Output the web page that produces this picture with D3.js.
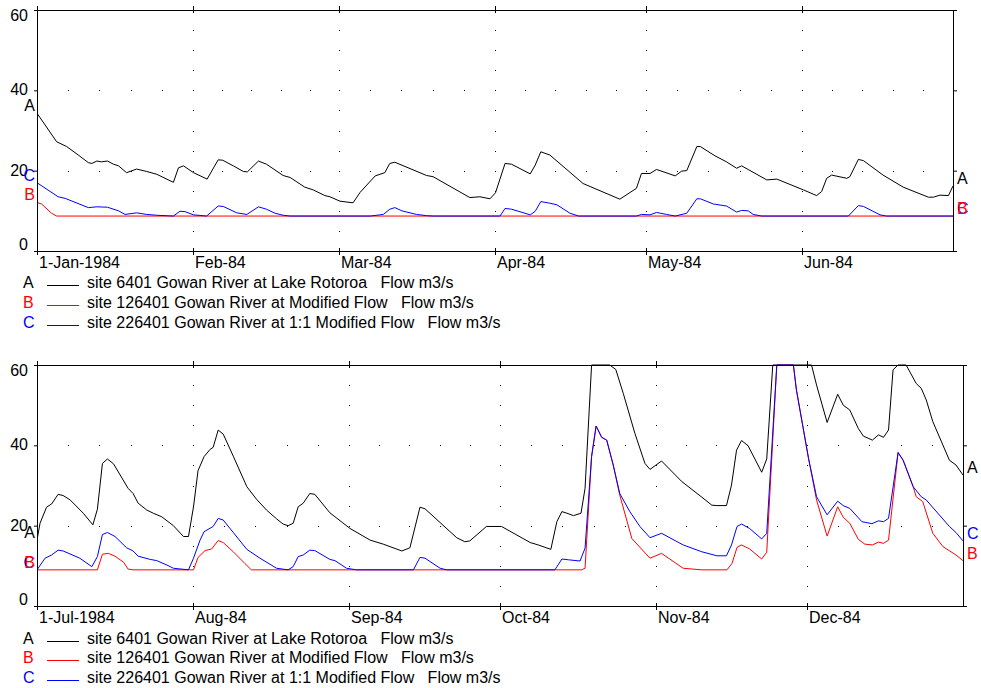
<!DOCTYPE html>
<html><head><meta charset="utf-8">
<script src="https://cdn.jsdelivr.net/npm/d3@7"></script>
<style>
body{margin:0;background:#fff}
svg text{font-family:"Liberation Sans",Arial,sans-serif;font-size:16px}
</style>
</head><body>
<svg id="chart" width="981" height="688"></svg>
<script>
// ---------------- DATA ----------------
const yTicks = [0, 20, 40, 60];
const monthLabels1 = ["1-Jan-1984", "Feb-84", "Mar-84", "Apr-84", "May-84", "Jun-84"];
const monthLabels2 = ["1-Jul-1984", "Aug-84", "Sep-84", "Oct-84", "Nov-84", "Dec-84"];
const seriesLetters = ["A", "B", "C"];
const seriesNames = [
  "site 6401 Gowan River at Lake Rotoroa   Flow m3/s",
  "site 126401 Gowan River at Modified Flow   Flow m3/s",
  "site 226401 Gowan River at 1:1 Modified Flow   Flow m3/s"
];
// [days since panel start, flow m3/s]
const h1A = [[0,34.3],[3.9,27.2],[5.9,26.0],[8.2,23.9],[10.2,22.0],[10.9,21.8],[11.9,22.4],[12.8,22.2],[14,22.4],[15.2,21.6],[16.2,21.2],[17.8,19.5],[19.8,20.4],[21.8,19.8],[23.8,19.1],[27.1,17.1],[28.1,20.7],[29.1,21.2],[31.1,19.5],[33.8,17.9],[36,22.7],[36.9,22.6],[39,21.2],[41,19.8],[41.8,19.7],[44,22.4],[45.6,21.6],[48.9,18.8],[50.3,18.3],[53.2,15.9],[54.9,15.2],[57.2,13.8],[58.2,13.5],[60.2,12.4],[62.8,12.0],[64.2,14.6],[67.2,18.7],[69.1,19.5],[70.1,21.8],[71.1,22.1],[77.4,18.8],[78.7,18.5],[86,13.3],[88,13.5],[90,13.0],[91.1,14.5],[93,21.8],[94.3,21.6],[98,19.2],[99,21.4],[100.1,24.7],[101.9,23.9],[108.5,16.8],[115.8,12.9],[119.1,15.6],[120.1,19.3],[121.8,19.3],[123.1,20.3],[126.8,18.7],[128.1,19.9],[129.1,20.0],[131.1,26.0],[131.8,26.0],[134.7,23.7],[137,22.2],[139,20.6],[140,21.2],[145,17.7],[147,17.9],[152.3,15.2],[154.9,13.8],[155.9,14.8],[156.9,18.1],[157.9,18.9],[160.9,18.1],[161.5,18.5],[163.2,22.8],[164.2,22.5],[168.1,18.9],[172.1,15.9],[177.1,13.4],[178.1,13.4],[179.4,13.9],[181.1,13.8],[182,16.2]];
const h1B = [[0,12.1],[0.9,11.7],[2.9,9.4],[3.9,8.7],[182,8.7]];
const h1C = [[0,17.0],[4.2,13.5],[5.6,13.1],[10.2,10.8],[11.9,11.0],[14,10.9],[16.2,10.0],[17.5,9.1],[19.8,9.5],[21.8,9.1],[23.8,8.9],[27.1,8.7],[28.4,9.9],[29.4,9.8],[31.1,9.0],[33.7,8.7],[36,11.2],[37,11.1],[39.7,9.5],[41.7,9.1],[44,11.0],[45.6,10.4],[47.3,9.4],[48.9,8.9],[50.3,8.7],[66.2,8.7],[68.8,9.1],[70.1,10.4],[71.1,10.8],[72.5,10.0],[75.4,9.1],[77.4,8.8],[78.7,8.7],[92,8.7],[93,10.6],[94.3,10.4],[98,9.0],[99,9.9],[100.1,12.3],[101.9,11.9],[103.3,11.5],[105.9,9.4],[107.6,8.7],[119.1,8.7],[120.1,9.1],[121.8,9.0],[123.1,9.6],[125.1,9.1],[126.8,8.7],[129.1,9.4],[131.1,13.0],[131.8,13.0],[134.4,11.7],[137,11.2],[139,9.7],[140,10.1],[141.3,10.0],[142.3,9.1],[144,8.7],[161.2,8.7],[163.2,11.3],[164.2,11.1],[167.5,9.0],[168.8,8.7],[182,8.7]];
const h2A = [[0,16.4],[0.6,20.6],[1.9,24.6],[2.9,25.4],[4.2,27.8],[5.2,27.5],[6.6,26.4],[9.2,23.1],[11.1,20.2],[12,24.1],[13,35.5],[14,36.6],[15.2,35.4],[18.1,29.3],[19.1,28.0],[20.1,25.6],[21.8,23.9],[23.1,23.1],[24.8,22.2],[27.1,20.0],[29.1,17.3],[30.1,17.3],[31.1,24.7],[32,33.7],[33.2,37.2],[34.4,39.0],[35,39.5],[36,43.8],[37,42.8],[39,37.3],[41.7,29.7],[43.6,26.6],[45.6,23.9],[47.6,21.7],[48.9,20.4],[49.9,20.0],[50.9,20.6],[51.9,24.7],[52.9,25.6],[54.2,28.0],[55.2,27.8],[58.2,23.2],[62.2,19.3],[66.2,16.4],[68.8,15.4],[72.5,13.7],[74.1,14.5],[76.1,24.6],[77.1,24.2],[83.4,17.0],[85,16.0],[86,16.2],[89.3,19.8],[92.3,19.8],[98,15.8],[99.6,15.2],[102.1,14.1],[103.3,21.0],[104.3,23.5],[105.3,23.1],[106.6,22.5],[108.1,23.1],[108.9,29.3],[110.2,60],[113.8,60],[115,58.9],[116.5,52.9],[118.8,43.0],[120.8,35.5],[121.8,34.0],[124.1,36.1],[128.1,31.0],[132.1,27.1],[134.1,25.1],[135.1,25.0],[137,25.0],[138,30.1],[139,38.8],[140,41.2],[141.3,39.9],[144,33.3],[145,36.6],[146.2,60],[153.9,60],[154.9,55.0],[157,45.7],[159.1,52.7],[160.2,50.0],[161.5,48.8],[163.2,44.2],[164.2,42.3],[166,41.3],[167.2,42.6],[168.2,42.0],[169.2,43.8],[170.1,58.8],[171.1,60],[172.7,60],[174.7,55.4],[175.7,54.2],[176.7,51.3],[178,45.9],[181.3,36.3],[182.6,35.1],[184,32.6]];
const h2B = [[0,9.0],[12,9.0],[13,12.9],[14.2,13.1],[15.5,12.4],[17.2,10.9],[18.1,9.2],[19.1,9.0],[31.1,9.0],[32,12.1],[33.4,13.8],[34.7,14.2],[36,16.3],[37,15.8],[39,13.5],[41.3,10.6],[42.6,9.0],[108.2,9.0],[108.9,9.4],[110.2,37.2],[111.1,44.8],[112.2,42.0],[113.2,41.3],[114.5,35.1],[115.8,27.6],[118.2,16.8],[121.8,11.9],[124.1,13.1],[128.4,9.4],[132.1,9.0],[137.1,9.0],[138.1,10.6],[139.1,14.6],[140,15.2],[141.6,14.2],[144,11.7],[145,13.4],[147,60],[150.3,60],[150.9,53.8],[153.3,36.8],[154.9,26.4],[157,17.4],[159.1,24.7],[160.2,22.1],[161.5,20.6],[163.2,16.6],[164.5,15.4],[166,15.2],[167.2,15.9],[168.2,15.6],[169.2,16.4],[171.1,38.2],[172.1,36.3],[174.1,29.7],[174.7,27.2],[176,26.0],[178,18.1],[180,14.8],[182.6,12.7],[184,11.3]];
const h2C = [[0,9.0],[1.6,11.9],[2.9,12.7],[4.2,13.9],[5.2,13.7],[8.5,11.9],[10.9,9.8],[12,12.3],[13,17.8],[14,18.3],[15.5,17.3],[17.8,14.5],[19.1,13.7],[20.1,12.4],[22.5,11.6],[23.8,11.3],[25.8,10.2],[27.1,9.4],[30.1,9.0],[31.1,11.9],[32.4,16.4],[33.2,18.5],[35,19.8],[36,21.8],[37,21.4],[39,18.3],[41.7,14.1],[44.3,11.9],[47.6,9.4],[49.9,9.0],[50.9,9.8],[51.9,12.3],[52.9,12.7],[54.2,13.9],[55.2,13.8],[58.2,11.6],[59.2,11.3],[61.5,9.4],[63.5,9.0],[74.8,9.0],[76.1,12.1],[77.1,11.9],[80.1,9.4],[81.4,9.0],[102.9,9.0],[104.3,11.7],[105.6,11.5],[107.9,11.2],[108.9,14.4],[110.2,37.2],[111.1,44.8],[112.2,42.0],[113.2,41.3],[114.5,35.1],[115.8,28.0],[117.8,23.5],[119.8,19.8],[121.8,17.0],[124.1,18.1],[128.4,15.2],[132.1,13.5],[135.1,12.5],[137,12.5],[138,15.2],[139.1,19.8],[140,20.4],[141.6,19.3],[144,16.7],[145,18.1],[147,60],[150.3,60],[150.9,53.8],[153.3,36.8],[154.9,27.2],[157,22.7],[159.1,26.1],[160.2,25.0],[161.5,24.3],[163.9,21.0],[165.9,20.5],[167.2,21.2],[168.2,21.0],[169.2,21.8],[171.1,38.2],[172.1,36.3],[174.1,29.7],[175.7,27.2],[176.7,26.4],[181.3,19.8],[182.6,18.3],[184,16.2]];

// ---------------- STYLE / LAYOUT ----------------
const colors = ["#000000", "#ff0000", "#0000ff"];
const DAY = 864e5;
const panels = [
  {start: Date.UTC(1984,0,1), end: Date.UTC(1984,6,1), left:37, right:953, top:10, bottom:251,
   labels: monthLabels1, series:[h1A,h1B,h1C], legendY:[288,308,327.5]},
  {start: Date.UTC(1984,6,1), end: Date.UTC(1985,0,1), left:37, right:963, top:365, bottom:606,
   labels: monthLabels2, series:[h2A,h2B,h2C], legendY:[643.5,663,682.5]}
];

const svg = d3.select("#chart");
const font = "Liberation Sans, Arial, sans-serif";

panels.forEach((p, pi) => {
  const x = d3.scaleUtc().domain([p.start, p.end]).range([p.left, p.right]);
  const y = d3.scaleLinear().domain([0, 60]).range([p.bottom, p.top]);
  const months = d3.utcMonth.range(new Date(p.start), new Date(p.end));
  const g = svg.append("g").attr("class", "panel" + pi);

  // dotted grid
  const dots = [];
  months.forEach((m, i) => {
    const next = d3.utcMonth.offset(m, 1);
    for (let k = 0; k < 5; k++) {
      if (i === 0 && k === 0) continue;
      const t = +m + (next - m) * k / 5;
      [20, 40].forEach(v => dots.push([x(t), y(v)]));
    }
    if (i > 0) for (let v = 5; v < 60; v += 5) if (v !== 20 && v !== 40) dots.push([x(m), y(v)]);
  });
  g.append("g").selectAll("rect").data(dots).join("rect")
    .attr("x", d => Math.round(d[0])).attr("y", d => Math.round(d[1]))
    .attr("width", 1).attr("height", 1).attr("fill", "#000");

  // clip
  const cid = "clip" + pi;
  svg.append("defs").append("clipPath").attr("id", cid).append("rect")
    .attr("x", p.left).attr("y", p.top - 1).attr("width", p.right - p.left + 1).attr("height", p.bottom - p.top + 2);

  const line = d3.line().x(d => x(p.start + d[0] * DAY)).y(d => y(d[1]));
  const lg = g.append("g").attr("clip-path", `url(#${cid})`);
  p.series.forEach((s, si) => {
    lg.append("path").attr("d", line(s)).style("fill", "none")
      .style("stroke", colors[si]).style("stroke-width", 1);
  });

  // axes
  const ax = g.append("g").attr("transform", `translate(0,${p.bottom})`)
    .call(d3.axisBottom(x).tickValues(months).tickSize(4).tickSizeOuter(0).tickFormat((d, i) => p.labels[i]));
  ax.selectAll(".tick line").attr("y1", -3).attr("y2", 4);
  ax.selectAll(".tick text").attr("text-anchor", "start").attr("x", 1.5).attr("y", 16.5).attr("dy", null);

  const at = g.append("g").attr("transform", `translate(0,${p.top})`)
    .call(d3.axisTop(x).tickValues(months).tickSize(4).tickSizeOuter(0).tickFormat(""));
  at.selectAll(".tick line").attr("y1", 3).attr("y2", -4);

  const al = g.append("g").attr("transform", `translate(${p.left},0)`)
    .call(d3.axisLeft(y).tickValues(yTicks).tickSize(3).tickSizeOuter(0).tickFormat(d3.format("d")));
  al.selectAll(".tick text").attr("x", -9).attr("dy", null)
    .attr("y", d => d === 60 ? 10 : (d === 0 ? -1.5 : 4.5));

  const ar = g.append("g").attr("transform", `translate(${p.right},0)`)
    .call(d3.axisRight(y).tickValues(yTicks).tickSize(4).tickSizeOuter(0).tickFormat(""));

  [ax, at, al, ar].forEach(a => {
    a.attr("font-size", 16).attr("font-family", font);
    a.selectAll(".domain, .tick line").attr("stroke", "#000");
    a.selectAll(".tick text").attr("fill", "#000");
  });

  // series letter labels at both ends (draw C before B)
  const lab = g.append("g");
  [0, 2, 1].forEach(si => {
    const s = p.series[si];
    const first = s[0], last = s[s.length - 1];
    lab.append("text").attr("x", p.left - 2).attr("y", y(first[1]) - 2)
      .attr("text-anchor", "end").style("fill", colors[si]).text(seriesLetters[si]);
    lab.append("text").attr("x", p.right + 4).attr("y", y(last[1]) - 2)
      .attr("text-anchor", "start").style("fill", colors[si]).text(seriesLetters[si]);
  });

  // legend
  const leg = g.append("g");
  p.legendY.forEach((ly, si) => {
    leg.append("text").attr("x", 23).attr("y", ly).style("fill", colors[si]).text(seriesLetters[si]);
    leg.append("rect").attr("x", 47).attr("y", Math.round(ly - 3)).attr("width", 32).attr("height", 1)
      .style("fill", colors[si]);
    leg.append("text").attr("x", 87).attr("y", ly).style("fill", "#000")
      .attr("xml:space", "preserve").style("white-space", "pre").text(seriesNames[si]);
  });
});
</script>
</body></html>
